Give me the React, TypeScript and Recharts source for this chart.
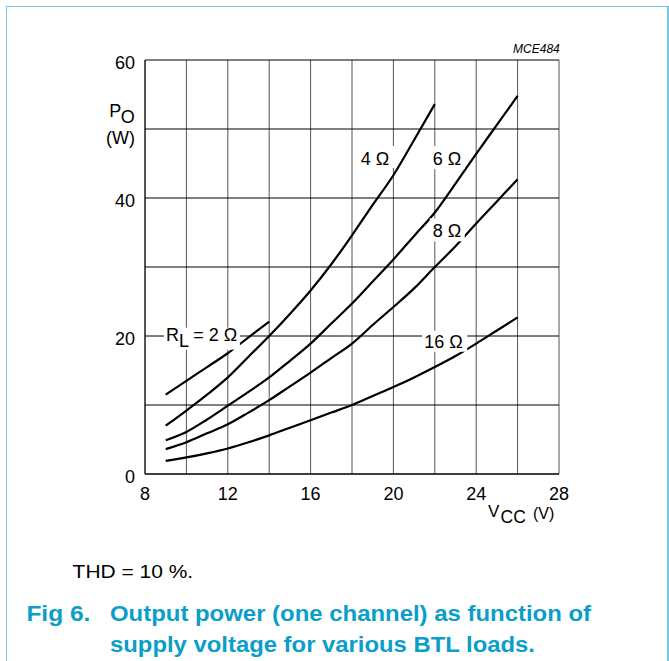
import React from 'react';
import { LineChart, Line, XAxis, YAxis, CartesianGrid, ReferenceDot } from 'recharts';

if (typeof document !== 'undefined') {
  document.body.style.margin = '0';
}

// Supply voltage (V) sample points
const vcc = [9, 10, 11, 12, 13, 14, 15, 16, 17, 18, 19, 20, 21, 22, 23, 24, 25, 26];
// Output power (W) per load
const p2 = [11.5, 13.5, 15.5, 17.5, 19.8, 22.1];
const p4 = [7, 9.2, 11.5, 14, 17, 20.0, 23.2, 26.6, 30.4, 34.6, 39.0, 43.3, 48.4, 53.6];
const p6 = [4.9, 6.1, 7.9, 9.9, 11.9, 14, 16.4, 18.9, 21.8, 24.7, 27.9, 31.1, 34.5, 37.9, 42.1, 46.4, 50.6, 54.8];
const p8 = [3.6, 4.6, 5.9, 7.2, 8.9, 10.7, 12.7, 14.7, 16.8, 18.9, 21.6, 24.2, 26.9, 30, 33, 36.3, 39.5, 42.7];
const p16 = [1.9, 2.4, 3.0, 3.7, 4.6, 5.6, 6.7, 7.8, 8.9, 10, 11.3, 12.6, 14.0, 15.5, 17.1, 18.9, 20.8, 22.7];

const xTicks = [8, 10, 12, 14, 16, 18, 20, 22, 24, 26, 28];
const yTicks = [0, 10, 20, 30, 40, 50, 60];

const series = [p2, p4, p6, p8, p16].map((arr) => arr.map((p, i) => ({ v: vcc[i], p })));

const FONT = '"Liberation Sans", Arial, Helvetica, sans-serif';

const XTick = (props: any) => {
  const { x, y, payload } = props;
  if (payload.value % 4 !== 0) return null;
  return (
    <text x={x} y={y + 25.5} textAnchor="middle" fontSize={18} fontFamily={FONT} fill="#000">
      {payload.value}
    </text>
  );
};

const YTick = (props: any) => {
  const { x, y, payload } = props;
  if (payload.value % 20 !== 0) return null;
  return (
    <text x={x} y={y + 9} textAnchor="end" fontSize={18} fontFamily={FONT} fill="#000">
      {payload.value}
    </text>
  );
};

const makeLabel = (content: React.ReactNode, w: number, padL: number, top: number, h: number) => (props: any) => {
  const { cx, cy } = props;
  return (
    <g>
      <rect x={cx - padL} y={cy - top} width={w} height={h} fill="#fff" />
      <text x={cx} y={cy} fontSize={18} fontFamily={FONT} fill="#000">
        {content}
      </text>
    </g>
  );
};

const labelRL = makeLabel(
  <>
    <tspan>R</tspan>
    <tspan dy={6}>L</tspan>
    <tspan dy={-6}> = 2 Ω</tspan>
  </>,
  76, 2, 13, 22
);
const label4 = makeLabel('4 Ω', 37, 2, 19, 22);
const label6 = makeLabel('6 Ω', 35, 3, 19, 23);
const label8 = makeLabel('8 Ω', 35, 3, 19, 23);
const label16 = makeLabel('16 Ω', 45, 2, 17, 21);

export default function App() {
  return (
    <div style={{ position: 'relative', width: 669, height: 661, background: '#fff', overflow: 'hidden' }}>
      <div
        style={{
          position: 'absolute',
          left: 6,
          top: 6,
          width: 663,
          height: 700,
          borderTop: '1.5px solid #74c8df',
          borderLeft: '1.5px solid #74c8df',
          borderRight: '2px solid #74c8df',
          boxSizing: 'border-box',
        }}
      />
      <div style={{ position: 'absolute', left: 0, top: 0 }}>
        <LineChart width={669} height={540} margin={{ top: 60, right: 110, bottom: 36, left: 0 }}>
          <CartesianGrid horizontal={false} stroke="#555" strokeWidth={1} />
          <CartesianGrid vertical={false} stroke="#000" strokeWidth={1} />
          <XAxis
            type="number"
            dataKey="v"
            domain={[8, 28]}
            ticks={xTicks}
            interval={0}
            allowDataOverflow
            height={30}
            tickSize={0}
            tickMargin={0}
            tickLine={false}
            axisLine={{ stroke: '#000', strokeWidth: 1 }}
            tick={<XTick />}
          />
          <YAxis
            type="number"
            dataKey="p"
            domain={[0, 60]}
            ticks={yTicks}
            interval={0}
            width={145}
            tickSize={0}
            tickMargin={10}
            tickLine={false}
            axisLine={{ stroke: '#000', strokeWidth: 1 }}
            tick={<YTick />}
          />
          <ReferenceDot x={9.01} y={19.32} r={0} shape={labelRL} />
          <ReferenceDot x={18.42} y={44.78} r={0} shape={label4} />
          <ReferenceDot x={21.9} y={44.78} r={0} shape={label6} />
          <ReferenceDot x={21.9} y={34.3} r={0} shape={label8} />
          <ReferenceDot x={21.49} y={18.3} r={0} shape={label16} />
          {series.map((d, i) => (
            <Line
              key={i}
              data={d}
              dataKey="p"
              type="monotone"
              stroke="#000"
              strokeWidth={2.2}
              dot={false}
              isAnimationActive={false}
            />
          ))}
        </LineChart>
      </div>
      <svg
        width={669}
        height={661}
        style={{ position: 'absolute', left: 0, top: 0, pointerEvents: 'none' }}
        fontFamily={FONT}
      >
        <text x={559.8} y={53} textAnchor="end" fontSize={12} fontStyle="italic" fill="#000">MCE484</text>
        <text fontSize={18} fill="#000">
          <tspan x={109.3} y={117.3}>P</tspan>
          <tspan x={120.7} y={123.3}>O</tspan>
        </text>
        <text x={106} y={144.3} fontSize={18} fill="#000">(W)</text>
        <text x={488} y={516.7} fontSize={17} fill="#000">V</text>
        <text x={500.5} y={523} fontSize={17.5} fill="#000">CC</text>
        <text x={533} y={518.5} fontSize={16} fill="#000">(V)</text>
        <text x={72.6} y={577.7} fontSize={17.5} fill="#000" textLength={120.5} lengthAdjust="spacingAndGlyphs">THD = 10 %.</text>
        <text x={26.4} y={621} fontSize={21.5} fontWeight="bold" fill="#0a9ec8" textLength={64} lengthAdjust="spacingAndGlyphs">Fig 6.</text>
        <text x={110} y={621} fontSize={21.5} fontWeight="bold" fill="#0a9ec8" textLength={481} lengthAdjust="spacingAndGlyphs">Output power (one channel) as function of</text>
        <text x={110} y={651.5} fontSize={21.5} fontWeight="bold" fill="#0a9ec8" textLength={425} lengthAdjust="spacingAndGlyphs">supply voltage for various BTL loads.</text>
      </svg>
    </div>
  );
}
